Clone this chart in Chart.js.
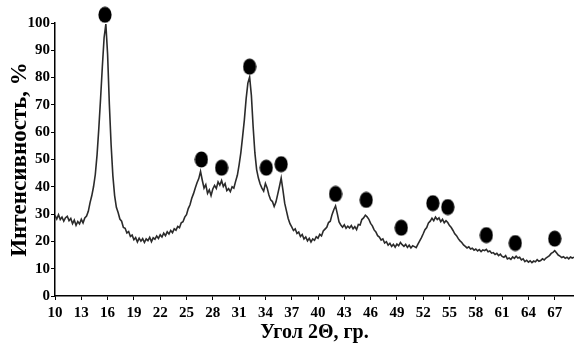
<!DOCTYPE html>
<html>
<head>
<meta charset="utf-8">
<script src="https://cdn.jsdelivr.net/npm/chart.js@4.4.1/dist/chart.umd.min.js"></script>
<style>
  html, body { margin: 0; padding: 0; background: #fff; }
  #wrap { width: 574px; height: 345px; }
</style>
</head>
<body>
<div id="wrap"><canvas id="xrd" width="574" height="345"></canvas></div>
<script>
// scan: start angle, step (deg 2theta), intensity in %
var angleStart = 10;
var angleStep = 0.2;
var intensity = [
  29.5, 28.2, 29.8, 28.0, 28.9, 27.4, 28.7, 29.2, 27.6, 28.4,
  26.5, 27.8, 25.9, 27.3, 26.4, 28.1, 26.8, 28.6, 29.3, 31.0,
  34.2, 36.8, 40.1, 44.6, 51.8, 61.5, 72.4, 84.0, 94.6, 99.6,
  88.5, 70.2, 55.4, 44.1, 36.8, 32.5, 30.6, 28.2, 27.4, 25.1,
  24.8, 23.1, 23.6, 21.8, 22.3, 20.6, 21.4, 19.8, 21.2, 20.1,
  21.0, 19.6, 20.9, 20.3, 21.5, 19.9, 21.3, 20.8, 22.0, 21.1,
  22.4, 21.6, 23.0, 22.1, 23.5, 22.7, 24.0, 23.2, 24.6, 24.1,
  25.5, 25.0, 26.8, 27.2, 28.9, 29.8, 32.0, 33.4, 35.8, 37.5,
  39.6, 41.5, 43.0, 45.6, 42.4, 39.5, 40.8, 37.6, 38.9, 36.8,
  39.2, 40.5, 39.4, 41.8, 40.6, 42.3, 40.1, 41.2, 38.6, 39.3,
  38.2, 40.0, 39.5, 42.0, 44.2, 48.0, 52.5, 58.4, 64.5, 72.2,
  78.0, 80.2, 73.5, 62.0, 52.4, 46.3, 43.2, 41.0, 39.5, 38.4,
  41.2, 39.6, 37.0, 35.2, 34.6, 32.8, 34.4, 37.2, 40.1, 43.2,
  38.8, 34.0, 31.2, 28.4, 26.5, 25.3, 24.0, 24.6, 22.9, 23.4,
  21.8, 22.5, 20.9, 21.6, 20.2, 21.1, 19.8, 20.9, 20.4, 21.7,
  21.2, 22.6, 22.0, 23.8, 24.5, 25.2, 26.9, 27.4, 29.8, 31.6,
  33.0, 30.2, 27.1, 26.0, 25.2, 26.1, 24.8, 25.6, 24.9, 25.8,
  24.6, 25.4, 24.3, 26.2, 26.0, 28.0, 28.6, 29.6, 29.0, 28.1,
  26.6, 25.7, 24.2, 23.5, 22.1, 21.6, 20.5, 20.9, 19.4, 19.9,
  18.6, 19.3, 18.2, 18.9, 17.9, 19.0, 18.4, 19.6, 18.8, 18.2,
  18.9, 17.8, 18.6, 17.6, 18.4, 18.1, 17.7, 19.0, 20.2, 21.4,
  22.8, 24.3, 25.1, 26.8, 27.4, 28.5, 27.6, 28.9, 28.0, 28.6,
  27.2, 28.1, 26.8, 27.6, 26.9, 25.8, 25.1, 24.0, 22.8, 22.1,
  21.0, 20.2, 19.6, 18.7, 18.2, 17.6, 18.0, 17.2, 17.5, 16.8,
  17.2, 16.5, 17.0, 16.3, 16.9, 16.6, 17.1, 16.2, 16.5, 15.7,
  15.9, 15.2, 15.6, 14.8, 15.3, 14.5, 14.2, 14.8, 13.6, 13.9,
  13.4, 14.3, 13.8, 14.6, 13.9, 14.2, 13.2, 13.6, 12.6, 13.1,
  12.4, 12.9, 12.2, 12.8, 12.5, 13.3, 12.7, 13.0, 13.6, 13.2,
  13.9, 14.3, 14.8, 15.6, 16.0, 16.6, 15.8, 15.0, 14.6, 14.1,
  14.4, 13.8, 14.2, 13.6, 14.3, 13.9, 14.2, 14.0
];

// marked reflections (black dots)
var peakAngles = [15.7, 26.7, 29.0, 32.2, 34.1, 35.8, 42.0, 45.5, 49.5, 53.1, 54.8, 59.2, 62.5, 67.0];
var peakMarks  = [103, 50, 47, 84, 47, 48.3, 37.4, 35.2, 25, 34, 32.6, 22.3, 19.4, 21];

var xTicks = [10, 13, 16, 19, 22, 25, 28, 31, 34, 37, 40, 43, 46, 49, 52, 55, 58, 61, 64, 67];

var scan = [];
for (var i = 0; i < intensity.length; i++) {
  scan.push({ x: angleStart + i * angleStep, y: intensity[i] });
}
var marks = [];
for (var j = 0; j < peakAngles.length; j++) {
  marks.push({ x: peakAngles[j], y: peakMarks[j] });
}

// slightly tall dot, like in the original figure
var dot = document.createElement('canvas');
dot.width = 14; dot.height = 17;
var dc = dot.getContext('2d');
dc.fillStyle = '#000';
dc.beginPath();
dc.ellipse(7, 8.5, 6.6, 8, 0, 0, Math.PI * 2);
dc.fill();

var serif = '"Liberation Serif", "Times New Roman", serif';

var ctx = document.getElementById('xrd');
var chart = new Chart(ctx, {
  type: 'line',
  data: {
    datasets: [{
      data: scan,
      borderColor: '#2b2b2b',
      borderWidth: 1.6,
      pointRadius: 0,
      tension: 0,
      fill: false
    }, {
      data: marks,
      showLine: false,
      pointStyle: dot,
      pointRadius: 12,   // image size is fixed; bigger radius keeps the top dot from being culled
      pointBorderWidth: 0,
      clip: false
    }]
  },
  options: {
    responsive: false,
    animation: false,
    layout: {
      autoPadding: false,
      padding: { top: 23, right: 0, left: 0, bottom: 0 }
    },
    plugins: {
      legend: { display: false },
      tooltip: { enabled: false }
    },
    scales: {
      x: {
        type: 'linear',
        min: 10,
        max: 69.2,
        afterBuildTicks: function (scale) {
          scale.ticks = xTicks.map(function (v) { return { value: v }; });
        },
        afterFit: function (scale) {
          scale.height = 49;
          scale.paddingLeft = 0;
          scale.paddingRight = 0;
        },
        border: { color: '#000', width: 1.5 },
        grid: { drawOnChartArea: false, color: '#000', tickLength: 4 },
        ticks: {
          color: '#000',
          maxRotation: 0,
          autoSkip: false,
          padding: 4,
          font: { family: serif, size: 15, weight: 'bold' }
        },
        title: {
          display: true,
          text: 'Угол 2Θ, гр.',
          color: '#000',
          padding: { top: 0, bottom: 0 },
          font: { family: serif, size: 20, weight: 'bold' }
        }
      },
      y: {
        min: 0,
        max: 100,
        afterFit: function (scale) { scale.width = 55; },
        border: { color: '#000', width: 1.5 },
        grid: { drawOnChartArea: false, color: '#000', tickLength: 4 },
        ticks: {
          stepSize: 10,
          color: '#000',
          padding: 1,
          font: { family: serif, size: 15, weight: 'bold' }
        },
        title: {
          display: true,
          text: 'Интенсивность, %',
          color: '#000',
          padding: { top: 6, bottom: 0 },
          font: { family: serif, size: 23, weight: 'bold' }
        }
      }
    }
  }
});
</script>
</body>
</html>
